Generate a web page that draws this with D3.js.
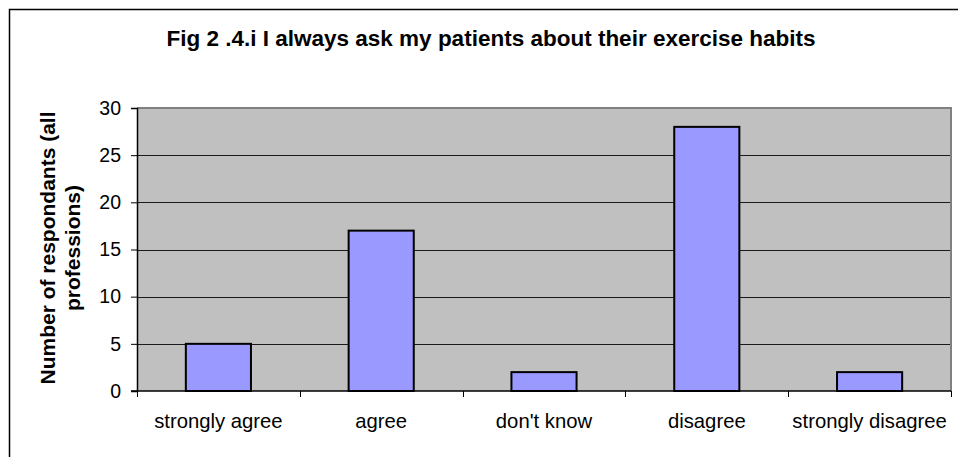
<!DOCTYPE html>
<html>
<head>
<meta charset="utf-8">
<script src="https://cdn.jsdelivr.net/npm/d3@7"></script>
<style>
  html, body { margin: 0; padding: 0; background: #fff; }
  svg { display: block; font-family: Arial, "Liberation Sans", sans-serif; }
</style>
</head>
<body>
<svg id="chart" width="958" height="457"></svg>
<script>
// Survey responses: "I always ask my patients about their exercise habits"
const categories = ["strongly agree", "agree", "don't know", "disagree", "strongly disagree"];
const respondents = [5, 17, 2, 28, 2];
const yTicks = [0, 5, 10, 15, 20, 25, 30];
const titleText = "Fig 2 .4.i I always ask my patients about their exercise habits";
const yLabelLines = ["Number of respondants (all", "professions)"];

const svg = d3.select("#chart");
const W = 958, H = 457;
const plot = { left: 137, right: 951, top: 108, bottom: 391 };

// Outer chart frame (runs off the right and bottom edges)
svg.append("path")
  .attr("d", `M9.5,${H + 2} V9.5 H${W + 2}`)
  .attr("fill", "none")
  .attr("stroke", "#000")
  .attr("stroke-width", 1.5);

// Title
svg.append("text")
  .attr("x", 491)
  .attr("y", 46)
  .attr("text-anchor", "middle")
  .attr("font-weight", "bold")
  .attr("font-size", 22.5)
  .attr("fill", "#000")
  .text(titleText);

const x = d3.scaleBand()
  .domain(categories)
  .range([plot.left, plot.right])
  .paddingInner(0.6)
  .paddingOuter(0.3);

const y = d3.scaleLinear()
  .domain([0, 30])
  .range([plot.bottom, plot.top]);

// Plot area background
svg.append("rect")
  .attr("x", plot.left)
  .attr("y", plot.top)
  .attr("width", plot.right - plot.left)
  .attr("height", plot.bottom - plot.top)
  .attr("fill", "#C0C0C0");

// Horizontal gridlines
svg.append("g")
  .selectAll("line")
  .data(yTicks.filter(d => d > 0 && d < 30))
  .join("line")
  .attr("x1", plot.left)
  .attr("x2", plot.right)
  .attr("y1", d => Math.round(y(d)) + 0.5)
  .attr("y2", d => Math.round(y(d)) + 0.5)
  .attr("stroke", "#1a1a1a")
  .attr("stroke-width", 1);

// Plot area top/right border
svg.append("path")
  .attr("d", `M${plot.left},${plot.top} H${plot.right} V${plot.bottom}`)
  .attr("fill", "none")
  .attr("stroke", "#808080")
  .attr("stroke-width", 2);

// Bars
svg.append("g")
  .selectAll("rect")
  .data(categories.map((c, i) => ({ c, v: respondents[i] })))
  .join("rect")
  .attr("x", d => x(d.c))
  .attr("y", d => y(d.v))
  .attr("width", x.bandwidth())
  .attr("height", d => y(0) - y(d.v))
  .attr("fill", "#9999FF")
  .attr("stroke", "#000")
  .attr("stroke-width", 2);

// Y axis
const yAxis = svg.append("g")
  .attr("transform", `translate(${plot.left},0)`)
  .call(d3.axisLeft(y).tickValues(yTicks).tickSize(6).tickPadding(10).tickFormat(d3.format("d")));
yAxis.select(".domain").attr("stroke", "#000").attr("stroke-width", 1.5);
yAxis.selectAll(".tick line").attr("stroke", "#000");
yAxis.selectAll(".tick text")
  .attr("font-size", 19.5)
  .attr("font-family", "Arial, 'Liberation Sans', sans-serif")
  .attr("fill", "#000");

// X axis with ticks at category boundaries
const xAxisG = svg.append("g")
  .attr("transform", `translate(0,${plot.bottom})`);
xAxisG.append("line")
  .attr("x1", plot.left - 6)
  .attr("x2", plot.right)
  .attr("stroke", "#000")
  .attr("stroke-width", 1.5);
const step = x.step();
const boundaries = d3.range(categories.length + 1).map(i => plot.left + i * step);
xAxisG.selectAll("line.tick")
  .data(boundaries)
  .join("line")
  .attr("class", "tick")
  .attr("x1", d => Math.round(d) + 0.5)
  .attr("x2", d => Math.round(d) + 0.5)
  .attr("y1", 0)
  .attr("y2", 6)
  .attr("stroke", "#000");
xAxisG.selectAll("text")
  .data(categories)
  .join("text")
  .attr("x", d => x(d) + x.bandwidth() / 2)
  .attr("y", 37)
  .attr("text-anchor", "middle")
  .attr("font-size", 20.3)
  .attr("fill", "#000")
  .text(d => d);

// Y axis title (two lines, rotated)
const yLabel = svg.append("text")
  .attr("transform", "translate(55,248) rotate(-90)")
  .attr("text-anchor", "middle")
  .attr("font-weight", "bold")
  .attr("font-size", 21)
  .attr("fill", "#000");
yLabel.selectAll("tspan")
  .data(yLabelLines)
  .join("tspan")
  .attr("x", 0)
  .attr("dy", (d, i) => i === 0 ? 0 : 25)
  .text(d => d);
</script>
</body>
</html>
